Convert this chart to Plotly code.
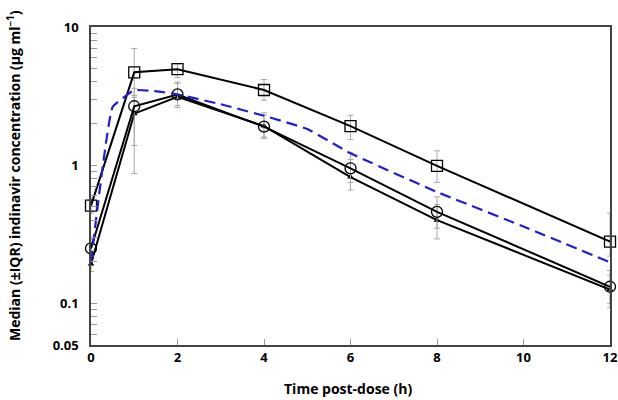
import plotly.graph_objects as go

# ---- data ----
time_obs = [0, 1, 2, 4, 6, 8, 12]

square_med = [0.51, 4.7, 4.95, 3.5, 1.92, 0.99, 0.28]
square_hi = [0.58, 7.0, 5.4, 4.17, 2.3, 1.27, 0.45]
square_lo = [0.45, 3.1, 4.3, 2.95, 1.53, 0.75, 0.22]

circle_med = [0.25, 2.67, 3.25, 1.9, 0.95, 0.46, 0.132]
circle_hi = [0.29, 3.6, 4.0, 2.39, 1.24, 0.59, 0.173]
circle_lo = [0.22, 1.39, 2.61, 1.56, 0.75, 0.35, 0.093]

tri_med = [0.193, 2.36, 3.12, 1.92, 0.82, 0.40, 0.126]
tri_hi = [0.21, 3.2, 3.9, 2.3, 1.10, 0.52, 0.16]
tri_lo = [0.17, 0.87, 2.7, 1.6, 0.66, 0.293, 0.10]

model_t = [0, 0.5, 1, 1.5, 2, 3, 4, 5, 6, 8, 10, 12]
model_c = [0.2, 2.64, 3.49, 3.43, 3.25, 2.76, 2.28, 1.83, 1.22, 0.64, 0.36, 0.198]

y_major = [0.05, 0.1, 1, 10]
y_major_text = ["0.05", "0.1", "1", "10"]
y_minor = [0.06, 0.07, 0.08, 0.09, 0.2, 0.3, 0.4, 0.5, 0.6, 0.7, 0.8, 0.9,
           2, 3, 4, 5, 6, 7, 8, 9]
x_ticks = [0, 2, 4, 6, 8, 10, 12]

FONT = "Open Sans"
ERR = "#a8a8a8"


def err(med, hi, lo):
    return dict(type="data", symmetric=False,
                array=[h - m for h, m in zip(hi, med)],
                arrayminus=[m - l for m, l in zip(med, lo)],
                color=ERR, thickness=1, width=3)


fig = go.Figure()

fig.add_trace(go.Scatter(x=time_obs, y=tri_med, mode="lines+markers",
                         line=dict(color="black", width=2),
                         marker=dict(symbol="triangle-up", size=6, color="black"),
                         error_y=err(tri_med, tri_hi, tri_lo), cliponaxis=False,
                         showlegend=False))
fig.add_trace(go.Scatter(x=time_obs, y=circle_med, mode="lines+markers",
                         line=dict(color="black", width=2),
                         marker=dict(symbol="circle-open", size=11, color="black",
                                     line=dict(width=1.3)),
                         error_y=err(circle_med, circle_hi, circle_lo), cliponaxis=False,
                         showlegend=False))
fig.add_trace(go.Scatter(x=time_obs, y=square_med, mode="lines+markers",
                         line=dict(color="black", width=2),
                         marker=dict(symbol="square-open", size=11, color="black",
                                     line=dict(width=1.3)),
                         error_y=err(square_med, square_hi, square_lo), cliponaxis=False,
                         showlegend=False))
fig.add_trace(go.Scatter(x=model_t, y=model_c, mode="lines",
                         line=dict(color="#1f1fd0", width=2.2, dash="11px,6px",
                                   shape="spline", smoothing=0.3),
                         showlegend=False))

tickvals = y_major + y_minor
ticktext = y_major_text + [""] * len(y_minor)

fig.update_layout(
    width=618, height=400,
    margin=dict(l=91, r=8, t=27, b=55),
    paper_bgcolor="white", plot_bgcolor="white",
    font=dict(family=FONT, size=13, color="black", weight="bold"),
    xaxis=dict(range=[0, 12], tickvals=x_ticks, ticks="inside", ticklen=6,
               tickcolor="#999999", showgrid=False, zeroline=False, automargin=False,
               showline=True, linecolor="#444444", linewidth=1.5, mirror=True,
               tickfont=dict(family=FONT, size=13, color="black", weight="bold")),
    yaxis=dict(type="log", range=[-1.30103, 1], tickvals=tickvals, ticktext=ticktext,
               ticks="inside", ticklen=6, tickcolor="#999999", showgrid=False,
               zeroline=False, showline=True, linecolor="#444444", linewidth=1.5,
               mirror=True, ticklabelstandoff=8, automargin=False,
               tickfont=dict(family=FONT, size=13, color="black", weight="bold")),
    annotations=[
        dict(text="Time post-dose (h)", xref="paper", yref="paper",
             x=(348 - 91) / 519, y=(345 - 388) / 318, showarrow=False,
             xanchor="center", yanchor="middle",
             font=dict(family=FONT, size=14, color="black", weight="bold")),
        dict(text="Median (±IQR) indinavir concentration (μg ml<sup>−1</sup>)",
             xref="paper", yref="paper", x=(14 - 91) / 519, y=(345 - 176) / 318,
             textangle=-90, showarrow=False, xanchor="center", yanchor="middle",
             font=dict(family=FONT, size=14, color="black", weight="bold")),
    ],
)

fig.write_html("out.html", config={"displayModeBar": False},
               post_script="document.body.style.margin='0';document.body.style.padding='0';")
